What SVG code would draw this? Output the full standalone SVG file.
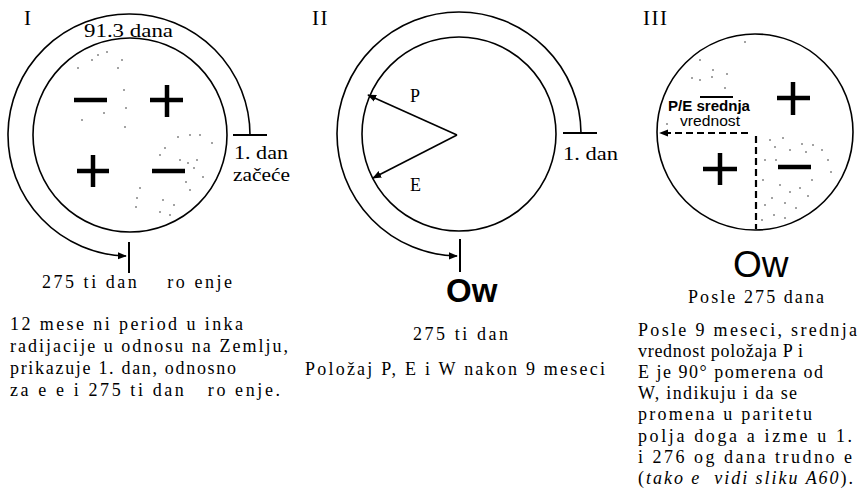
<svg xmlns="http://www.w3.org/2000/svg" width="860" height="492" viewBox="0 0 860 492">
<style>
.ln{fill:none;stroke:#000;stroke-width:1.6}
.tk{fill:none;stroke:#000;stroke-width:2}
.sg{stroke:#000;stroke-width:4.5;fill:none}
.ds{fill:none;stroke:#000;stroke-width:2.2;stroke-dasharray:7 4}
.t{font-family:"Liberation Serif",serif;font-size:18px;fill:#000;white-space:pre}
.lb{font-family:"Liberation Serif",serif;font-size:18px;fill:#000;white-space:pre}
.rn{font-family:"Liberation Serif",serif;font-size:21px;fill:#000;letter-spacing:1.5px}
.sf{font-family:"Liberation Sans",sans-serif;fill:#000}
.dt{fill:#000}
</style>
<defs>
<marker id="ah" viewBox="0 0 10 10" refX="9" refY="5" markerWidth="9" markerHeight="9" markerUnits="userSpaceOnUse" orient="auto">
<path d="M0,1 L10,5 L0,9 z" fill="#000"/>
</marker>
</defs>

<g id="panel-I">
<text class="rn" x="24" y="25">I</text>
<circle class="ln" cx="130" cy="135" r="97"/>
<g id="I-signs">
<line class="sg" x1="74" y1="100" x2="107" y2="100"/>
<line class="sg" x1="150" y1="100" x2="183" y2="100"/>
<line class="sg" x1="167" y1="85" x2="167" y2="117"/>
<line class="sg" x1="77" y1="171" x2="109" y2="171"/>
<line class="sg" x1="93" y1="155" x2="93" y2="187"/>
<line class="sg" x1="152" y1="171" x2="185" y2="171"/>
</g>
<g id="I-dots" class="dt">
<circle cx="92" cy="60" r="0.7"/><circle cx="98" cy="55" r="0.7"/><circle cx="107" cy="52" r="0.7"/><circle cx="122" cy="60" r="0.7"/><circle cx="118" cy="68" r="0.7"/><circle cx="124" cy="90" r="0.7"/><circle cx="126" cy="108" r="0.7"/><circle cx="125" cy="127" r="0.7"/><circle cx="82" cy="120" r="0.7"/><circle cx="104" cy="113" r="0.7"/><circle cx="78" cy="68" r="0.7"/>
<circle cx="178" cy="137" r="0.7"/><circle cx="190" cy="135" r="0.7"/><circle cx="200" cy="135" r="0.7"/><circle cx="212" cy="143" r="0.7"/><circle cx="165" cy="148" r="0.7"/><circle cx="160" cy="155" r="0.7"/><circle cx="180" cy="160" r="0.7"/><circle cx="188" cy="163" r="0.7"/><circle cx="197" cy="160" r="0.7"/><circle cx="194" cy="168" r="0.7"/><circle cx="203" cy="177" r="0.7"/><circle cx="186" cy="182" r="0.7"/><circle cx="190" cy="190" r="0.7"/><circle cx="140" cy="188" r="0.7"/><circle cx="137" cy="198" r="0.7"/><circle cx="136" cy="207" r="0.7"/><circle cx="163" cy="200" r="0.7"/><circle cx="174" cy="205" r="0.7"/><circle cx="170" cy="215" r="0.7"/><circle cx="160" cy="212" r="0.7"/>
</g>
<text class="lb" x="84" y="37" textLength="89" lengthAdjust="spacingAndGlyphs">91.3 dana</text>
<text class="lb" x="234" y="159" textLength="54" lengthAdjust="spacingAndGlyphs">1. dan</text>
<text class="lb" x="233" y="181" textLength="57" lengthAdjust="spacingAndGlyphs">začeće</text>
</g>

<g id="panel-II">
<text class="rn" x="312" y="25">II</text>
<circle class="ln" cx="459" cy="134" r="97"/>
<text class="lb" x="410" y="102">P</text>
<text class="lb" x="410" y="191">E</text>
<text class="lb" x="563" y="160" textLength="55" lengthAdjust="spacingAndGlyphs">1. dan</text>
<text class="sf" x="446" y="302" font-size="33" font-weight="bold">Ow</text>
</g>

<g id="panel-III">
<text class="rn" x="643" y="25">III</text>
<circle class="ln" cx="755" cy="132" r="98"/>
<g id="III-signs">
<line class="sg" x1="777" y1="98" x2="810" y2="98"/>
<line class="sg" x1="793" y1="82" x2="793" y2="115"/>
<line class="sg" x1="778" y1="167" x2="811" y2="167"/>
<line class="sg" x1="703" y1="169" x2="737" y2="169"/>
<line class="sg" x1="720" y1="153" x2="720" y2="185"/>
</g>
<g id="III-dots" class="dt">
<circle cx="700" cy="60" r="0.7"/><circle cx="692" cy="78" r="0.7"/><circle cx="700" cy="80" r="0.7"/><circle cx="712" cy="77" r="0.7"/><circle cx="713" cy="70" r="0.7"/><circle cx="727" cy="74" r="0.7"/><circle cx="725" cy="88" r="0.7"/><circle cx="745" cy="42" r="0.7"/><circle cx="667" cy="124" r="0.7"/>
<circle cx="770" cy="140" r="0.7"/><circle cx="775" cy="147" r="0.7"/><circle cx="783" cy="138" r="0.7"/><circle cx="790" cy="150" r="0.7"/><circle cx="802" cy="144" r="0.7"/><circle cx="806" cy="152" r="0.7"/><circle cx="813" cy="145" r="0.7"/><circle cx="822" cy="150" r="0.7"/><circle cx="828" cy="160" r="0.7"/><circle cx="831" cy="172" r="0.7"/><circle cx="776" cy="160" r="0.7"/><circle cx="763" cy="180" r="0.7"/><circle cx="780" cy="185" r="0.7"/><circle cx="790" cy="192" r="0.7"/><circle cx="800" cy="188" r="0.7"/><circle cx="808" cy="196" r="0.7"/><circle cx="772" cy="198" r="0.7"/><circle cx="765" cy="205" r="0.7"/><circle cx="785" cy="203" r="0.7"/><circle cx="796" cy="208" r="0.7"/><circle cx="774" cy="215" r="0.7"/><circle cx="785" cy="218" r="0.7"/><circle cx="762" cy="220" r="0.7"/><circle cx="765" cy="160" r="0.7"/><circle cx="812" cy="180" r="0.7"/>
</g>
<line x1="700" y1="97" x2="733" y2="97" stroke="#000" stroke-width="2.2"/>
<text class="sf" x="668" y="111" font-size="14" font-weight="bold" textLength="82" lengthAdjust="spacingAndGlyphs">P/E srednja</text>
<text class="sf" x="680" y="126" font-size="14" textLength="60" lengthAdjust="spacingAndGlyphs">vrednost</text>
<text class="sf" x="733" y="277" font-size="37">Ow</text>
</g>

<g id="connectors">
<path class="ln" d="M250,135 A121,121 0 1 0 126,256" marker-end="url(#ah)"/>
<line class="tk" x1="233" y1="135" x2="267" y2="135"/>
<line class="tk" x1="129" y1="242" x2="129" y2="273"/>
<path class="ln" d="M581,133 A122,122 0 1 0 457,256" marker-end="url(#ah)"/>
<line class="tk" x1="563" y1="133" x2="597" y2="133"/>
<line class="tk" x1="460" y1="239" x2="460" y2="272"/>
<line class="ln" x1="457" y1="135" x2="368" y2="95" marker-end="url(#ah)"/>
<line class="ln" x1="457" y1="135" x2="373" y2="178" marker-end="url(#ah)"/>
<line class="ds" x1="748" y1="133" x2="660" y2="133" marker-end="url(#ah)"/>
<line class="ds" x1="756" y1="136" x2="756" y2="229"/>
</g>

<g id="captions">
<text class="t" x="42" y="288" textLength="190" lengthAdjust="spacing">275 ti dan    ro enje</text>
<text class="t" x="10" y="330" textLength="233" lengthAdjust="spacing">12 mese ni period u inka</text>
<text class="t" x="10" y="352" textLength="278" lengthAdjust="spacing">radijacije u odnosu na Zemlju,</text>
<text class="t" x="10" y="374" textLength="226" lengthAdjust="spacing">prikazuje 1. dan, odnosno</text>
<text class="t" x="10" y="396" textLength="270" lengthAdjust="spacing">za e e i 275 ti dan   ro enje.</text>
<text class="t" x="413" y="340" textLength="95" lengthAdjust="spacing">275 ti dan</text>
<text class="t" x="305" y="375" textLength="300" lengthAdjust="spacing">Položaj P, E i W nakon 9 meseci</text>
<text class="t" x="688" y="303" textLength="136" lengthAdjust="spacing">Posle 275 dana</text>
<text class="t" x="638" y="336" textLength="219" lengthAdjust="spacing">Posle 9 meseci, srednja</text>
<text class="t" x="638" y="357" textLength="165" lengthAdjust="spacing">vrednost položaja P i</text>
<text class="t" x="638" y="378" textLength="185" lengthAdjust="spacing">E je 90° pomerena od</text>
<text class="t" x="638" y="399" textLength="159" lengthAdjust="spacing">W, indikuju i da se</text>
<text class="t" x="638" y="420" textLength="174" lengthAdjust="spacing">promena u paritetu</text>
<text class="t" x="638" y="442" textLength="214" lengthAdjust="spacing">polja doga a izme u 1.</text>
<text class="t" x="638" y="463" textLength="214" lengthAdjust="spacing">i 276 og dana trudno e</text>
<text class="t" x="638" y="484" textLength="215" lengthAdjust="spacing">(<tspan font-style="italic">tako e  vidi sliku A60</tspan>).</text>
</g>
</svg>
